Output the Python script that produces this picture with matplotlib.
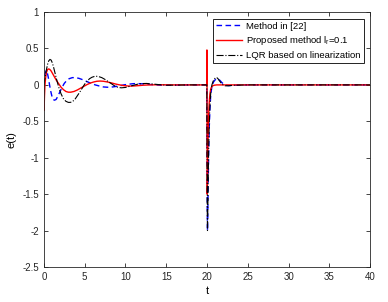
import matplotlib
matplotlib.use('Agg')
import matplotlib.pyplot as plt

matplotlib.rcParams['font.family'] = ['Liberation Sans', 'DejaVu Sans']
matplotlib.rcParams['font.size'] = 7

# Method in [22] (blue dashed)
t_blue = [0, 0.1, 0.2, 0.3, 0.4, 0.55, 0.7, 0.85, 1.0, 1.15, 1.3, 1.5, 1.7, 1.95, 2.2, 2.5, 2.8, 3.1, 3.5, 3.9,
          4.3, 4.8, 5.3, 5.8, 6.3, 6.8, 7.3, 7.8, 8.3, 8.8, 9.3, 9.8, 10.4, 11.0, 11.6, 12.2, 12.8, 13.4, 14.0,
          15.0, 16.0, 18.0, 19.98, 20.0, 20.03, 20.06, 20.1, 20.15, 20.2, 20.27, 20.35, 20.45, 20.6, 20.8,
          21.0, 21.2, 21.4, 21.6, 21.8, 22.0, 22.3, 22.7, 23.2, 25.0, 30.0, 40.0]
e_blue = [0, 0.1, 0.17, 0.2, 0.18, 0.1, 0.0, -0.09, -0.16, -0.2, -0.21, -0.2, -0.16, -0.1, -0.04, 0.02, 0.06, 0.085, 0.1, 0.1,
          0.09, 0.07, 0.045, 0.02, 0.0, -0.015, -0.028, -0.032, -0.03, -0.022, -0.012, 0.0, 0.01, 0.017, 0.018, 0.014, 0.008, 0.002, -0.002,
          -0.004, -0.002, 0.0, 0.0, -0.8, -1.7, -2.0, -1.75, -1.35, -0.95, -0.6, -0.35, -0.15, -0.02, 0.04,
          0.07, 0.085, 0.08, 0.06, 0.035, 0.015, -0.005, -0.01, -0.005, 0.0, 0.0, 0.0]

# Proposed method (red solid)
t_red = [0, 0.02, 0.04, 0.08, 0.14, 0.22, 0.32, 0.45, 0.6, 0.75, 0.9, 1.1, 1.3, 1.55, 1.8, 2.1, 2.4, 2.7, 3.0, 3.3,
         3.7, 4.1, 4.5, 4.9, 5.3, 5.7, 6.1, 6.5, 6.9, 7.3, 7.8, 8.3, 8.8, 9.3, 9.8, 10.4, 11.0, 11.6, 12.2, 13.0,
         14.0, 16.0, 19.98, 19.99, 20.0, 20.01, 20.03, 20.06, 20.1, 20.15, 20.2, 20.27, 20.35, 20.45, 20.55, 20.7,
         20.9, 21.2, 22.0, 30.0, 40.0]
e_red = [0, -0.35, -0.3, -0.15, 0.0, 0.1, 0.17, 0.21, 0.22, 0.21, 0.19, 0.15, 0.11, 0.06, 0.02, -0.03, -0.065, -0.09, -0.1, -0.1,
         -0.09, -0.07, -0.045, -0.02, 0.005, 0.025, 0.04, 0.05, 0.053, 0.05, 0.04, 0.027, 0.012, 0.0, -0.01, -0.016, -0.015, -0.01, -0.004, 0.0,
         0.002, 0.0, 0.0, 0.48, 0.3, -0.5, -1.5, -1.3, -0.95, -0.65, -0.42, -0.25, -0.13, -0.06, -0.03, -0.012,
         -0.004, 0.0, 0.0, 0.0, 0.0]

# LQR based on linearization (black dash-dot)
t_lqr = [0, 0.15, 0.3, 0.45, 0.6, 0.75, 0.9, 1.05, 1.2, 1.4, 1.6, 1.85, 2.1, 2.4, 2.7, 3.0, 3.25, 3.5, 3.8, 4.1,
         4.4, 4.7, 5.0, 5.3, 5.6, 5.9, 6.3, 6.7, 7.1, 7.5, 7.9, 8.3, 8.7, 9.1, 9.5, 10.0, 10.5, 11.0, 11.5, 12.0,
         12.6, 13.2, 14.0, 15.0, 16.0, 18.0, 19.98, 20.0, 20.03, 20.06, 20.1, 20.15, 20.2, 20.27, 20.35, 20.45,
         20.6, 20.75, 20.9, 21.05, 21.2, 21.35, 21.5, 21.7, 21.9, 22.2, 22.6, 23.2, 25.0, 30.0, 40.0]
e_lqr = [0, 0.1, 0.2, 0.28, 0.33, 0.35, 0.34, 0.3, 0.24, 0.15, 0.06, -0.04, -0.12, -0.19, -0.225, -0.24, -0.24, -0.23, -0.2, -0.15,
         -0.1, -0.045, 0.01, 0.05, 0.085, 0.105, 0.12, 0.115, 0.1, 0.075, 0.045, 0.015, -0.015, -0.035, -0.04, -0.035, -0.02, -0.005, 0.01, 0.018,
         0.02, 0.014, 0.005, -0.004, -0.003, 0.0, 0.0, -0.8, -1.7, -2.0, -1.7, -1.3, -0.9, -0.55, -0.3, -0.12,
         0.0, 0.05, 0.08, 0.1, 0.1, 0.085, 0.06, 0.03, 0.005, -0.012, -0.012, -0.005, 0.0, 0.0, 0.0]

fig = plt.figure(figsize=(3.88, 3.02), dpi=100)
ax = fig.add_axes([0.113, 0.116, 0.841, 0.844])

ax.plot(t_blue, e_blue, '--', color='#0000ff', lw=1.0, dashes=(4, 2.5), label='Method in [22]')
ax.plot(t_red, e_red, '-', color='#ff0000', lw=1.0, label=r'Proposed method l$_\mathregular{r}$=0.1')
ax.plot(t_lqr, e_lqr, '-.', color='black', lw=0.8, label='LQR based on linearization')

ax.set_xlim(0, 40)
ax.set_ylim(-2.5, 1)
ax.set_xticks(range(0, 41, 5))
ax.set_yticks([1, 0.5, 0, -0.5, -1, -1.5, -2, -2.5])
ax.set_yticklabels(['1', '0.5', '0', '-0.5', '-1', '-1.5', '-2', '-2.5'])
ax.tick_params(direction='in', top=True, right=True, length=3, width=0.6, colors='#262626', labelsize=7)
for s in ax.spines.values():
    s.set_linewidth(0.6)
    s.set_color('#262626')
ax.set_xlabel('t', fontsize=8, labelpad=3)
ax.set_ylabel('e(t)', fontsize=8)
ax.yaxis.set_label_coords(-0.085, 0.5)

leg = ax.legend(loc='upper right', fontsize=6.8, fancybox=False, edgecolor='black', framealpha=1,
                handlelength=2.8, borderaxespad=0.7, borderpad=0.3, labelspacing=0.4, handletextpad=0.4)
leg.get_frame().set_linewidth(0.6)

fig.savefig('out.png', dpi=100)
